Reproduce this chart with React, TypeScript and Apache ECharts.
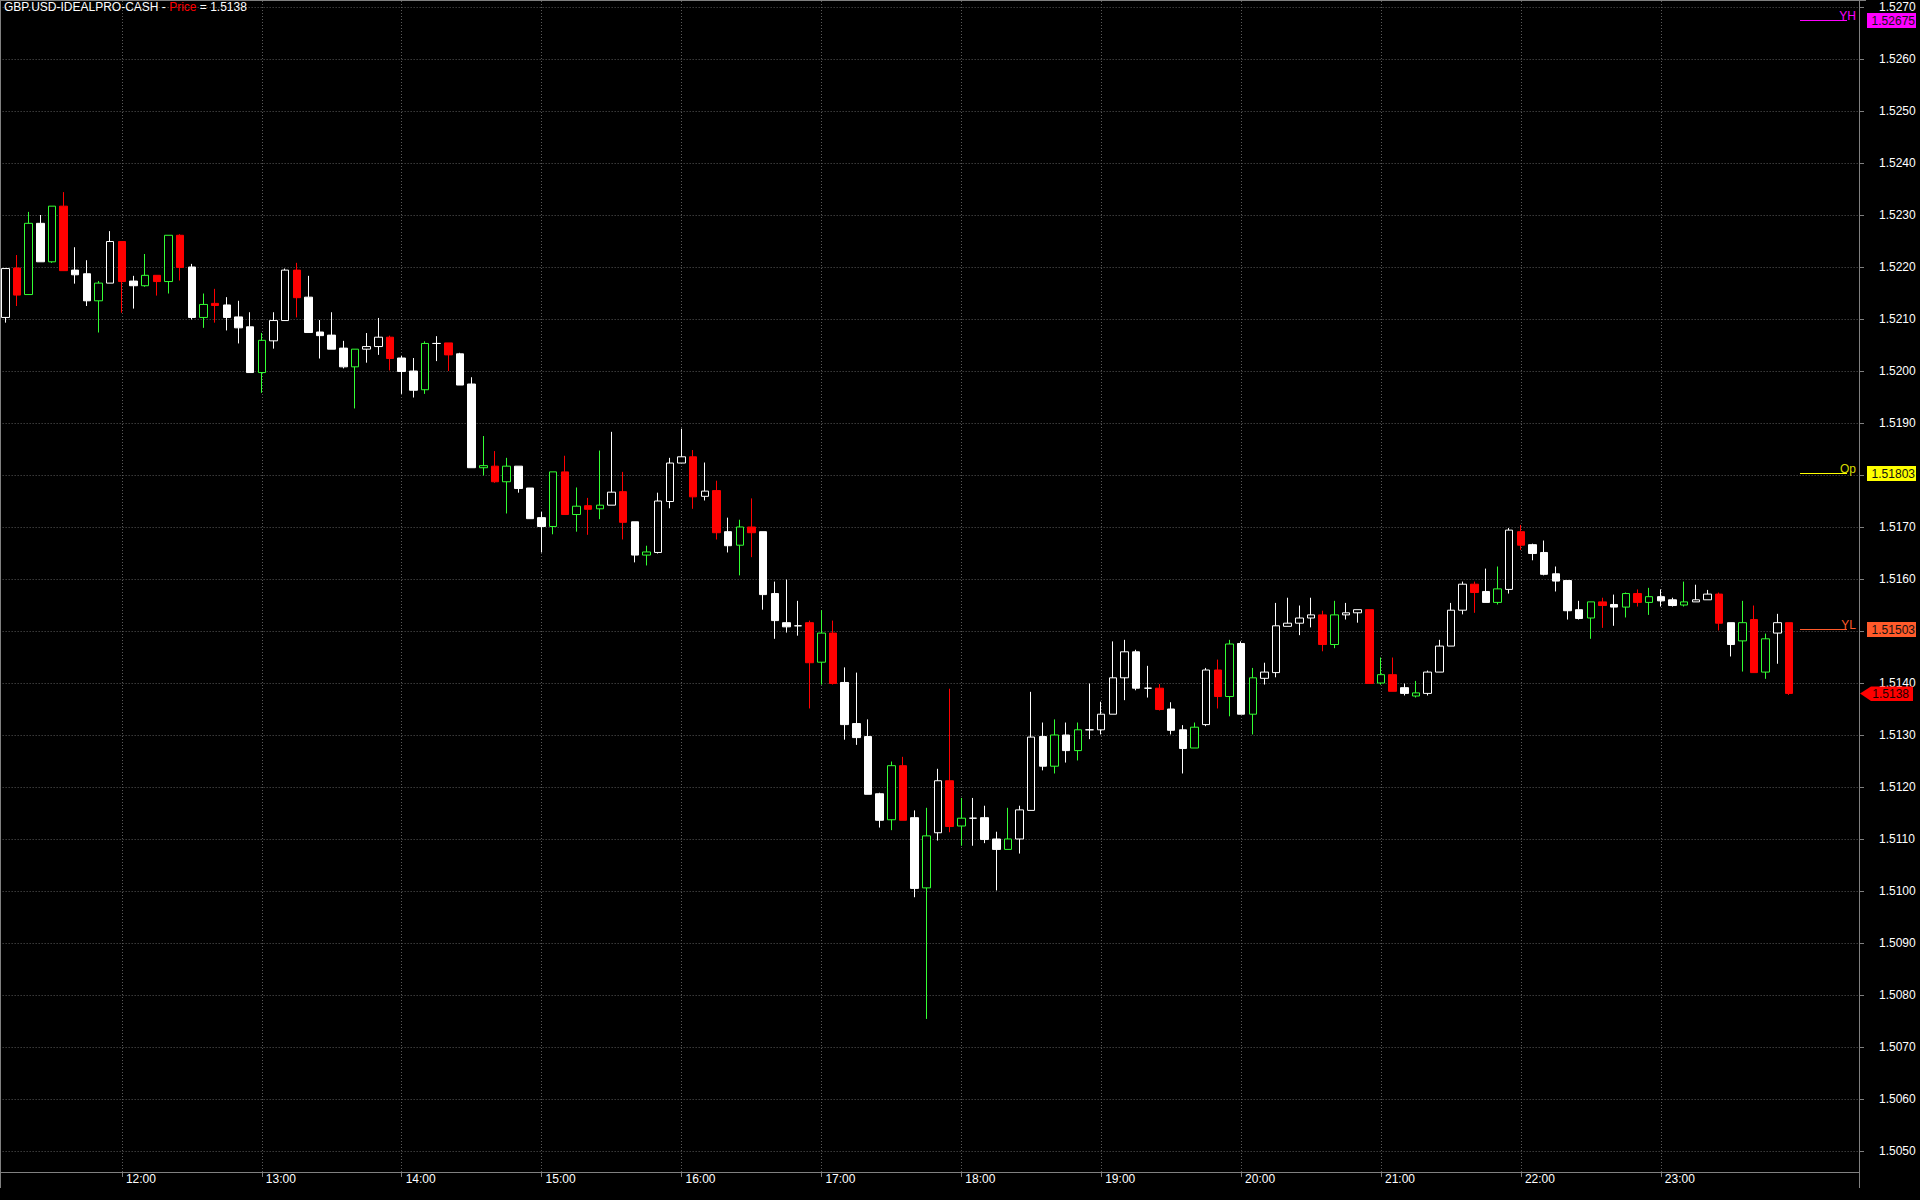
import React, { useEffect, useRef } from 'react';
import * as echarts from 'echarts';

const FONT = 'Arial, "Liberation Sans", sans-serif';

// ---- data (5-minute bars, GBP.USD) ----
const firstBarMinute = 11 * 60 + 10; // 11:10
const padBefore = 1;
const padAfter = 6;

const openPrices = [
  1.52103, 1.52198, 1.52147, 1.52284, 1.5221, 1.52317, 1.52194, 1.52187, 1.52135, 1.52169,
  1.52249, 1.52173, 1.52164, 1.52184, 1.52172, 1.52261, 1.522, 1.52103, 1.5213, 1.52127,
  1.52104, 1.52085, 1.51997, 1.52058, 1.52097, 1.52194, 1.52142, 1.52075, 1.52069, 1.52044,
  1.52008, 1.52042, 1.52047, 1.52065, 1.52025, 1.52, 1.51964, 1.52053, 1.52054, 1.52033,
  1.51975, 1.51814, 1.51817, 1.51787, 1.51817, 1.51775, 1.51718, 1.51701, 1.51806, 1.51724,
  1.51741, 1.51735, 1.51742, 1.51768, 1.5171, 1.51646, 1.51651, 1.51749, 1.51823, 1.51835,
  1.51759, 1.5177, 1.51691, 1.51665, 1.517, 1.51691, 1.51572, 1.51516, 1.5151, 1.51516,
  1.5144, 1.51496, 1.51401, 1.51322, 1.51297, 1.51187, 1.51137, 1.51241, 1.51141, 1.51006,
  1.51112, 1.51212, 1.51125, 1.5114, 1.51141, 1.511, 1.5108, 1.511, 1.51155, 1.51297,
  1.5124, 1.513, 1.5127, 1.5131, 1.5131, 1.5134, 1.5141, 1.5146, 1.5139, 1.5139,
  1.5135, 1.5131, 1.51275, 1.5132, 1.51425, 1.51374, 1.51476, 1.5134, 1.51409, 1.5142,
  1.51509, 1.51515, 1.51525, 1.51531, 1.51474, 1.51531, 1.51535, 1.51541, 1.514, 1.51416,
  1.51391, 1.51375, 1.5138, 1.51421, 1.51471, 1.5154, 1.5159, 1.51576, 1.51555, 1.5158,
  1.51691, 1.51666, 1.51651, 1.5161, 1.51597, 1.51541, 1.51525, 1.51556, 1.51551, 1.51546,
  1.51572, 1.51555, 1.51566, 1.5156, 1.5155, 1.51556, 1.5156, 1.51571, 1.51516, 1.51481,
  1.51522, 1.51421, 1.51496, 1.51516,
];

const closePrices = [
  1.52197, 1.52146, 1.52284, 1.5221, 1.52317, 1.52193, 1.52185, 1.52135, 1.52169, 1.52249,
  1.52172, 1.52164, 1.52184, 1.52172, 1.52261, 1.52199, 1.52103, 1.52128, 1.52126, 1.52103,
  1.52083, 1.51997, 1.52059, 1.52097, 1.52194, 1.52141, 1.52074, 1.52068, 1.52042, 1.52008,
  1.52042, 1.52047, 1.52065, 1.52024, 1.51999, 1.51963, 1.52053, 1.52053, 1.52031, 1.51973,
  1.51814, 1.51818, 1.51787, 1.51817, 1.51774, 1.51716, 1.51701, 1.51806, 1.51724, 1.5174,
  1.51734, 1.51742, 1.51767, 1.51709, 1.51646, 1.51652, 1.5175, 1.51823, 1.51835, 1.51758,
  1.51769, 1.51689, 1.51664, 1.517, 1.51689, 1.5157, 1.5152, 1.51508, 1.5151, 1.51439,
  1.51496, 1.51399, 1.5132, 1.51295, 1.51186, 1.51136, 1.51241, 1.51136, 1.51005, 1.51106,
  1.51212, 1.51124, 1.5114, 1.5114, 1.51099, 1.5108, 1.511, 1.51156, 1.51296, 1.5124,
  1.513, 1.5127, 1.5131, 1.5131, 1.5134, 1.5141, 1.5146, 1.5139, 1.5139, 1.51349,
  1.51309, 1.51274, 1.51315, 1.51425, 1.51374, 1.51475, 1.5134, 1.5141, 1.51421, 1.5151,
  1.51515, 1.51525, 1.51531, 1.51474, 1.51531, 1.51535, 1.51541, 1.51399, 1.51416, 1.51384,
  1.5138, 1.51381, 1.51421, 1.51471, 1.5154, 1.5159, 1.51574, 1.51555, 1.51581, 1.51694,
  1.51665, 1.51649, 1.51609, 1.51596, 1.51539, 1.51524, 1.51556, 1.51549, 1.51546, 1.51572,
  1.51555, 1.51566, 1.51558, 1.51549, 1.51556, 1.5156, 1.51571, 1.51515, 1.51474, 1.51516,
  1.5142, 1.51485, 1.51516, 1.5138,
];

const lowPrices = [
  1.52093, 1.52125, 1.52147, 1.5221, 1.52208, 1.52193, 1.52168, 1.52125, 1.52074, 1.52169,
  1.52112, 1.5212, 1.52162, 1.52145, 1.52149, 1.52174, 1.52099, 1.52083, 1.52093, 1.52078,
  1.52053, 1.51997, 1.51958, 1.52043, 1.52097, 1.52103, 1.52074, 1.52024, 1.52042, 1.52005,
  1.51928, 1.52016, 1.52031, 1.52001, 1.51956, 1.51949, 1.51956, 1.52019, 1.52, 1.51973,
  1.51814, 1.51799, 1.51785, 1.51726, 1.51766, 1.51716, 1.51651, 1.51686, 1.51724, 1.51691,
  1.51685, 1.51715, 1.51742, 1.51676, 1.51632, 1.51626, 1.51649, 1.51736, 1.51823, 1.51735,
  1.51751, 1.51676, 1.51651, 1.51607, 1.51642, 1.51541, 1.51485, 1.51497, 1.51491, 1.51351,
  1.51397, 1.51397, 1.51291, 1.51281, 1.51186, 1.51122, 1.51117, 1.51136, 1.50988, 1.50754,
  1.51097, 1.51113, 1.51087, 1.51087, 1.51092, 1.51001, 1.5108, 1.51072, 1.51155, 1.51232,
  1.51226, 1.51247, 1.51251, 1.51292, 1.51301, 1.5134, 1.51367, 1.51386, 1.51372, 1.51347,
  1.51301, 1.51226, 1.51275, 1.51317, 1.51351, 1.51336, 1.5134, 1.51301, 1.51397, 1.51411,
  1.51509, 1.51492, 1.51507, 1.51461, 1.51467, 1.51522, 1.51516, 1.51399, 1.51397, 1.51384,
  1.51376, 1.51372, 1.51376, 1.51421, 1.51471, 1.51532, 1.51535, 1.51555, 1.51551, 1.51572,
  1.51656, 1.51636, 1.51607, 1.51576, 1.51522, 1.51522, 1.51485, 1.51506, 1.5151, 1.51526,
  1.51547, 1.51531, 1.51547, 1.51547, 1.51547, 1.51556, 1.5156, 1.51501, 1.51451, 1.51422,
  1.5142, 1.51408, 1.51437, 1.51377,
];

const highPrices = [
  1.52197, 1.52223, 1.52306, 1.523, 1.52317, 1.52344, 1.52238, 1.52213, 1.52173, 1.52269,
  1.52249, 1.52183, 1.52225, 1.52184, 1.52261, 1.52263, 1.52206, 1.52149, 1.52158, 1.52142,
  1.52135, 1.52113, 1.52073, 1.52113, 1.52197, 1.52208, 1.52183, 1.52098, 1.52113, 1.52058,
  1.52042, 1.52073, 1.52102, 1.52068, 1.52029, 1.52025, 1.52057, 1.52067, 1.52054, 1.52035,
  1.51988, 1.51875, 1.51846, 1.51833, 1.51817, 1.51775, 1.51729, 1.51806, 1.51837, 1.51776,
  1.51756, 1.51847, 1.51883, 1.51806, 1.5171, 1.51664, 1.51766, 1.51833, 1.51889, 1.51848,
  1.51824, 1.51789, 1.51718, 1.51714, 1.51755, 1.51691, 1.51595, 1.51599, 1.51558, 1.5152,
  1.5154, 1.5152, 1.5143, 1.5142, 1.5133, 1.51189, 1.51249, 1.51258, 1.51155, 1.5116,
  1.51235, 1.51389, 1.51179, 1.51179, 1.51164, 1.51114, 1.5116, 1.51164, 1.51383, 1.51324,
  1.5133, 1.51324, 1.51324, 1.51399, 1.51364, 1.5148, 1.51483, 1.51464, 1.51433, 1.51398,
  1.51363, 1.51319, 1.51324, 1.51429, 1.51445, 1.51483, 1.5148, 1.51429, 1.51439, 1.51554,
  1.51564, 1.51549, 1.51564, 1.51539, 1.51558, 1.51554, 1.51541, 1.51541, 1.51449, 1.51449,
  1.51399, 1.51404, 1.51424, 1.51483, 1.51554, 1.51595, 1.51595, 1.5162, 1.51624, 1.51698,
  1.51704, 1.51668, 1.51674, 1.51624, 1.51597, 1.51558, 1.51556, 1.51564, 1.5157, 1.51574,
  1.5158, 1.51583, 1.5158, 1.51564, 1.51595, 1.51589, 1.51579, 1.51574, 1.51516, 1.51558,
  1.51549, 1.51495, 1.51533, 1.51516,
];

// bar class: W = white filled, H = white hollow, G = green hollow, R = red filled
const barKinds = (
  'HRGWGRWWGH' + 'RWGRGRWGRW' + 'WWGHHRWWWW' + 'GHHRWWGWRW' + 'WGRGWWWGRG' +
  'RGHRWGHHHR' + 'HRWGRWWWWR' + 'GRWWWWGRWG' + 'HRGWWWGHHW' + 'GWGWHHHWWR' +
  'WWGHRGWGHH' + 'HHHRGHHRGR' + 'WGHHHHRWGH' + 'RWWWWWGRWG' + 'RGWWGHHRWG' + 'RGHR'
).split('');

const yTickValues = [
  1.505, 1.506, 1.507, 1.508, 1.509, 1.51, 1.511, 1.512, 1.513, 1.514, 1.515, 1.516,
  1.517, 1.518, 1.519, 1.52, 1.521, 1.522, 1.523, 1.524, 1.525, 1.526, 1.527,
];

const refNames = ['YH', 'Op', 'YL'];
const refValues = [1.52675, 1.51803, 1.51503];

const symbolName = 'GBP.USD-IDEALPRO-CASH';

// ---- styles ----
const kindStyle: Record<string, { fill: string; stroke: string }> = {
  W: { fill: '#ffffff', stroke: '#ffffff' },
  H: { fill: '#000000', stroke: '#ffffff' },
  G: { fill: '#000000', stroke: '#33ff33' },
  R: { fill: '#ff0000', stroke: '#ff0000' },
};
const refColors = ['#ff00ff', '#ffff00', '#ff5a2a'];
const refTextColors = ['#ff00ff', '#d8dc00', '#ff5a2a'];
const GRID_COLOR = '#5a5a5a';
const AXIS_COLOR = '#808080';
const Y_MAX = 1.5271154;
const Y_MIN = 1.5045962;

function pad2(n: number) {
  return (n < 10 ? '0' : '') + n;
}

const totalSlots = padBefore + openPrices.length + padAfter;
const timeLabels: string[] = [];
for (let i = 0; i < totalSlots; i++) {
  const m = firstBarMinute + (i - padBefore) * 5;
  timeLabels.push(pad2(Math.floor(m / 60) % 24) + ':' + pad2(m % 60));
}
const lastDataSlot = padBefore + openPrices.length - 1;
const isHourMark = (index: number, value: string) =>
  index >= padBefore && index <= lastDataSlot && /:00$/.test(value);

// tick labels hidden behind the reference-level price tags
const yLabelValues = yTickValues.filter((v) => !refValues.some((r) => Math.abs(r - v) < 0.00012));

export default function App() {
  const ref = useRef<HTMLDivElement>(null);

  useEffect(() => {
    document.body.style.margin = '0';
    document.body.style.background = '#000';
    const chart = echarts.init(ref.current!, null, { renderer: 'svg' });

    const candleData: any[] = [];
    for (let i = 0; i < padBefore; i++) candleData.push('-');
    openPrices.forEach((o, i) => {
      const st = kindStyle[barKinds[i]];
      candleData.push({
        value: [o, closePrices[i], lowPrices[i], highPrices[i]],
        itemStyle: {
          color: st.fill,
          color0: st.fill,
          borderColor: st.stroke,
          borderColor0: st.stroke,
          borderColorDoji: st.stroke,
          borderWidth: 1,
        },
      });
    });

    const lastClose = closePrices[closePrices.length - 1];

    chart.setOption({
      animation: false,
      backgroundColor: '#000000',
      textStyle: { fontFamily: FONT },
      title: {
        left: 4,
        top: 1,
        padding: 0,
        text: `{a|${symbolName} - }{b|Price}{a| = ${lastClose.toFixed(4)}}`,
        textStyle: {
          fontSize: 12,
          fontWeight: 'normal',
          fontFamily: FONT,
          rich: {
            a: { color: '#ffffff', fontSize: 12, fontFamily: FONT },
            b: { color: '#ff0000', fontSize: 12, fontFamily: FONT },
          },
        },
      },
      grid: {
        left: -6.36,
        right: 61,
        top: 1,
        bottom: 28,
        show: false,
        containLabel: false,
        outerBoundsMode: 'none',
      },
      xAxis: {
        type: 'category',
        data: timeLabels,
        boundaryGap: false,
        axisLine: { show: true, onZero: false, lineStyle: { color: AXIS_COLOR, width: 1 } },
        axisTick: { show: true, interval: isHourMark, length: 5, lineStyle: { color: AXIS_COLOR } },
        axisLabel: {
          show: true,
          interval: isHourMark,
          color: '#ffffff',
          fontSize: 12,
          fontFamily: FONT,
          align: 'left',
          padding: [0, 0, 0, 4],
          margin: 1,
        },
        splitLine: {
          show: true,
          interval: isHourMark,
          lineStyle: { color: GRID_COLOR, width: 1, type: [1, 2] },
        },
      },
      yAxis: {
        type: 'value',
        position: 'right',
        min: Y_MIN,
        max: Y_MAX,
        axisLine: { show: true, onZero: false, lineStyle: { color: AXIS_COLOR, width: 1 } },
        axisTick: { show: true, customValues: yTickValues, length: 5, lineStyle: { color: AXIS_COLOR } },
        axisLabel: {
          show: true,
          customValues: yLabelValues,
          formatter: (v: number) => v.toFixed(4),
          color: '#ffffff',
          fontSize: 12,
          fontFamily: FONT,
          margin: 20,
        },
        splitLine: { show: true, lineStyle: { color: GRID_COLOR, width: 1, type: [1, 2] } },
      },
      series: [
        {
          type: 'candlestick',
          data: candleData,
          barWidth: 8,
          clip: false,
          silent: true,
        },
      ],
    });

    const yOf = (v: number) => chart.convertToPixel({ yAxisIndex: 0 }, v) as number;
    const graphics: any[] = [];
    // frame
    graphics.push(
      { type: 'line', z: 50, shape: { x1: 0.5, y1: 0, x2: 0.5, y2: 1188 }, style: { stroke: AXIS_COLOR, lineWidth: 1 } },
      { type: 'line', z: 50, shape: { x1: 0, y1: 0.5, x2: 1866, y2: 0.5 }, style: { stroke: AXIS_COLOR, lineWidth: 1 } },
      { type: 'line', z: 50, shape: { x1: 1859.5, y1: 0, x2: 1859.5, y2: 1188 }, style: { stroke: AXIS_COLOR, lineWidth: 1 } }
    );
    // reference levels
    refValues.forEach((v, i) => {
      const y = Math.round(yOf(v)) + 0.5;
      graphics.push(
        { type: 'line', z: 60, shape: { x1: 1800, y1: y, x2: 1847, y2: y }, style: { stroke: refColors[i], lineWidth: 1 } },
        {
          type: 'text', z: 60, x: 1856, y: y - 4.5,
          style: { text: refNames[i], fill: refTextColors[i], font: `12px ${FONT}`, align: 'right', verticalAlign: 'middle' },
        },
        { type: 'rect', z: 100, shape: { x: 1867, y: y - 7.5, width: 49, height: 15 }, style: { fill: refColors[i] } },
        {
          type: 'text', z: 101, x: 1915, y: y,
          style: { text: v.toFixed(5), fill: '#111111', font: `12px ${FONT}`, align: 'right', verticalAlign: 'middle' },
        }
      );
    });
    // last price tag
    {
      const y = yOf(lastClose);
      graphics.push(
        {
          type: 'polygon', z: 100,
          shape: { points: [[1860, y], [1871, y - 7], [1913, y - 7], [1913, y + 7.5], [1871, y + 7.5]] },
          style: { fill: '#ff0000' },
        },
        {
          type: 'text', z: 101, x: 1909, y: y + 0.5,
          style: { text: lastClose.toFixed(4), fill: '#1a0000', font: `12px ${FONT}`, align: 'right', verticalAlign: 'middle' },
        }
      );
    }
    chart.setOption({ graphic: graphics });

    return () => chart.dispose();
  }, []);

  return (
    <div
      ref={ref}
      style={{ position: 'fixed', left: 0, top: 0, width: 1920, height: 1200, background: '#000' }}
    />
  );
}
